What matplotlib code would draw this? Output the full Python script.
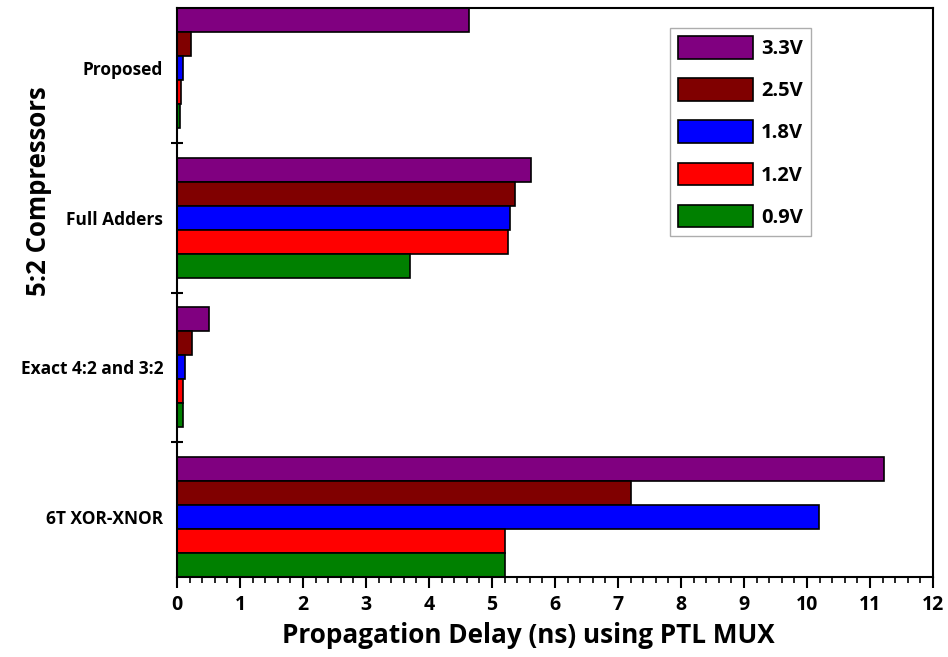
import matplotlib
matplotlib.use("Agg")
import matplotlib.pyplot as plt
import numpy as np
from matplotlib.ticker import MultipleLocator, FixedLocator

plt.rcParams['font.family'] = ['Open Sans', 'DejaVu Sans']
plt.rcParams['font.weight'] = 'bold'

categories = ["6T XOR-XNOR", "Exact 4:2 and 3:2", "Full Adders", "Proposed"]
series = ["3.3V", "2.5V", "1.8V", "1.2V", "0.9V"]
colors = ["#800080", "#800000", "#0000FF", "#FF0000", "#008000"]
v33 = [11.22, 0.50, 5.62, 4.63]
v25 = [7.20, 0.24, 5.37, 0.22]
v18 = [10.19, 0.13, 5.28, 0.10]
v12 = [5.21, 0.09, 5.25, 0.06]
v09 = [5.20, 0.09, 3.70, 0.04]
values = [v33, v25, v18, v12, v09]

fig = plt.figure(figsize=(9.48, 6.57), dpi=100)
ax = fig.add_axes([177/948, 1-577/657, (933-177)/948, (577-8)/657])

h = 0.16
y = np.arange(len(categories))
offsets = [2*h, h, 0, -h, -2*h]
for vals, off, c, lab in zip(values, offsets, colors, series):
    ax.barh(y + off, vals, height=h, color=c, edgecolor='black', linewidth=1.2, label=lab)

ax.set_xlim(0, 12)
ax.set_ylim(-0.4, 3.4)
ax.xaxis.set_major_locator(MultipleLocator(1))
ax.xaxis.set_minor_locator(MultipleLocator(0.2))
ax.tick_params(axis='x', which='major', direction='out', length=8, width=1.5, labelsize=14, pad=5)
ax.tick_params(axis='x', which='minor', direction='out', length=4, width=1.2)
for t in ax.get_xticklabels():
    t.set_fontweight('bold')

ax.set_yticks(y)
ax.set_yticklabels(categories, fontsize=12.5, fontweight='bold')
ax.tick_params(axis='y', which='major', length=0, pad=10)
ax.yaxis.set_minor_locator(FixedLocator([0.5, 1.5, 2.5]))
ax.tick_params(axis='y', which='minor', direction='inout', length=8, width=1.5)

for s in ax.spines.values():
    s.set_linewidth(1.5)

ax.set_xlabel("Propagation Delay (ns) using PTL MUX", fontsize=18.8, fontweight='bold')
ax.xaxis.set_label_coords((528-177)/756, (577-622)/569)
ax.set_ylabel("5:2 Compressors", fontsize=18.5, fontweight='bold')
ax.yaxis.set_label_coords((52-177)/756, (577-191)/569)

leg = ax.legend(loc='upper right', bbox_to_anchor=((811-177)/756, (577-28)/569),
                fontsize=14.5, handlelength=3.7, handleheight=1.35, labelspacing=0.95,
                handletextpad=0.4, borderpad=0.4, frameon=True, fancybox=False,
                edgecolor='#999999', borderaxespad=0)
leg.get_frame().set_linewidth(1.0)
for t in leg.get_texts():
    t.set_fontweight('bold')

fig.savefig("out.png", dpi=100)
